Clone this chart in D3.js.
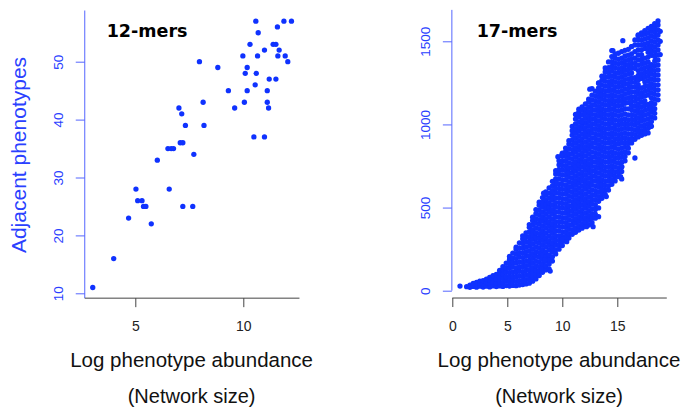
<!DOCTYPE html>
<meta charset="utf-8">
<head>
  <style>
    body { margin: 0; background: #fff; }
    text { font-family: "Liberation Sans", Arial, sans-serif; }
    .title { font-family: "DejaVu Sans", Verdana, sans-serif; font-weight: bold; }
  </style>
  <script src="https://d3js.org/d3.v7.min.js"></script>
</head>
<div id="my_dataviz"></div>

<script>

// 12-mers: log phenotype abundance vs adjacent phenotypes
var abund12 = [3.03, 4.0, 4.69, 5.03, 5.11, 5.31, 5.38, 5.49, 5.74, 6.02, 6.51, 6.57, 6.66, 6.77,
  7.02, 7.08, 7.15, 7.2, 7.2, 7.32, 7.71, 7.66, 7.97, 8.14, 8.18, 8.82, 9.31, 9.6, 9.98, 10.05,
  10.09, 10.18, 10.18, 10.31, 10.49, 10.55, 10.58, 10.6, 10.66, 10.69, 10.98, 10.98, 11.11, 11.11,
  11.17, 11.2, 11.38, 11.51, 11.51, 11.58, 11.6, 11.66, 11.88, 11.94, 12.06, 12.23];
var adj12 = [11, 16, 23, 28, 26, 26, 25, 25, 22, 33, 35, 28, 35, 35,
  42, 36, 41, 36, 25, 39, 34, 25, 50, 43, 39, 49, 45, 42, 51, 43,
  48, 49, 45, 53, 37, 46, 57, 48, 51, 55, 52, 37, 45, 43,
  42, 47, 53, 53, 47, 56, 51, 52, 57, 51, 50, 57];

// 17-mers, read off the saturated cloud strip by strip:
// [log abundance, [adjacent phenotypes of the dots in that strip]]
var cols17 = [
  [1.3, [24]],
  [1.6, [20, 34]],
  [1.9, [26, 44]],
  [2.2, [21, 38, 50]],
  [2.5, [27, 45, 58]],
  [2.8, [22, 41, 61]],
  [3.1, [27, 49, 69]],
  [3.4, [23, 44, 64, 80]],
  [3.7, [29, 51, 74, 90]],
  [4.0, [25, 47, 72, 98]],
  [4.3, [29, 53, 80, 104, 122]],
  [4.6, [26, 49, 75, 101, 127, 144]],
  [4.9, [31, 57, 84, 111, 139, 166]],
  [5.2, [28, 53, 80, 108, 135, 161, 188, 206]],
  [5.5, [32, 59, 86, 113, 142, 170, 197, 226]],
  [5.8, [30, 55, 82, 110, 137, 166, 193, 221, 249, 262]],
  [6.1, [34, 61, 89, 117, 144, 173, 202, 229, 257, 288]],
  [6.4, [37, 60, 86, 114, 143, 170, 199, 226, 255, 284, 312, 330]],
  [6.7, [41, 67, 94, 122, 150, 178, 207, 235, 263, 292, 320, 348]],
  [7.0, [45, 71, 98, 126, 155, 182, 211, 239, 268, 296, 325, 353, 381, 398]],
  [7.3, [57, 82, 110, 138, 167, 195, 223, 252, 280, 309, 338, 366, 394, 422, 442]],
  [7.6, [71, 95, 122, 150, 178, 207, 235, 263, 292, 320, 349, 378, 406, 434, 463, 488]],
  [7.9, [91, 116, 144, 172, 201, 229, 257, 286, 314, 343, 372, 400, 428, 457, 485, 514, 532]],
  [8.2, [111, 135, 162, 190, 218, 247, 275, 303, 332, 361, 389, 418, 446, 474, 503, 531, 560]],
  [8.5, [125, 150, 178, 206, 234, 263, 291, 319, 348, 377, 405, 434, 462, 490, 519, 547, 576, 594]],
  [8.8, [131, 160, 188, 216, 245, 273, 301, 330, 359, 387, 416, 444, 472, 501, 529, 558, 587, 618]],
  [9.1, [178, 204, 232, 260, 289, 317, 345, 374, 403, 431, 460, 488, 516, 545, 573, 602, 631, 658]],
  [9.4, [221, 246, 274, 302, 331, 359, 387, 416, 445, 473, 502, 530, 558, 587, 615, 644, 673, 702, 722]],
  [9.7, [250, 275, 302, 330, 359, 387, 415, 444, 473, 501, 530, 558, 586, 615, 643, 672, 701, 729, 757, 782]],
  [10.0, [272, 298, 326, 354, 383, 411, 439, 468, 497, 525, 554, 582, 610, 639, 667, 696, 725, 753, 781, 808, 828]],
  [10.3, [298, 326, 353, 381, 410, 438, 466, 495, 524, 552, 581, 609, 637, 666, 694, 723, 752, 780, 808, 837, 858]],
  [10.6, [317, 343, 370, 398, 427, 455, 483, 512, 541, 569, 598, 626, 654, 683, 711, 740, 769, 797, 825, 854, 882, 902]],
  [10.9, [339, 366, 394, 422, 451, 479, 507, 536, 565, 593, 622, 650, 678, 707, 735, 764, 793, 821, 849, 878, 906, 935, 962, 988]],
  [11.2, [351, 378, 406, 434, 463, 491, 519, 548, 577, 605, 634, 662, 690, 719, 747, 776, 805, 833, 861, 890, 918, 947, 975, 1003, 1032, 1060]],
  [11.5, [365, 391, 418, 446, 475, 503, 531, 560, 589, 617, 646, 674, 702, 731, 759, 788, 817, 845, 873, 902, 930, 959, 987, 1015, 1044, 1072, 1092]],
  [11.8, [376, 403, 431, 459, 488, 516, 544, 573, 602, 630, 659, 687, 715, 744, 772, 801, 830, 858, 886, 915, 943, 972, 1000, 1028, 1057, 1085, 1106]],
  [12.1, [387, 413, 440, 468, 497, 525, 553, 582, 611, 639, 668, 696, 724, 753, 781, 810, 839, 867, 895, 924, 952, 981, 1009, 1037, 1066, 1094, 1124]],
  [12.4, [395, 423, 451, 479, 508, 536, 564, 593, 622, 650, 679, 707, 735, 764, 792, 821, 850, 878, 906, 935, 963, 992, 1020, 1048, 1077, 1105, 1134, 1152]],
  [12.7, [409, 436, 464, 492, 521, 549, 577, 606, 635, 663, 692, 720, 748, 777, 805, 834, 863, 891, 919, 948, 976, 1005, 1033, 1061, 1090, 1118, 1147, 1176, 1215]],
  [13.0, [436, 461, 489, 517, 546, 574, 602, 631, 660, 688, 717, 745, 773, 802, 830, 859, 888, 916, 944, 973, 1001, 1030, 1058, 1086, 1115, 1143, 1172, 1200]],
  [13.3, [498, 538, 566, 594, 623, 651, 679, 708, 737, 765, 794, 822, 850, 879, 907, 936, 965, 993, 1021, 1050, 1078, 1107, 1135, 1163, 1192, 1220, 1250]],
  [13.6, [556, 583, 611, 639, 668, 696, 724, 753, 782, 810, 839, 867, 895, 924, 952, 981, 1010, 1038, 1066, 1095, 1123, 1152, 1180, 1208, 1237, 1265, 1290]],
  [13.9, [579, 605, 633, 661, 690, 718, 746, 775, 804, 832, 861, 889, 917, 946, 974, 1003, 1032, 1060, 1088, 1117, 1145, 1174, 1202, 1230, 1259, 1287, 1316, 1340]],
  [14.2, [605, 631, 659, 687, 716, 744, 772, 801, 830, 858, 887, 915, 943, 972, 1000, 1029, 1058, 1086, 1114, 1143, 1171, 1200, 1228, 1256, 1285, 1313, 1342, 1376]],
  [14.5, [640, 667, 695, 723, 752, 780, 808, 837, 866, 894, 923, 951, 979, 1008, 1036, 1065, 1094, 1122, 1150, 1179, 1207, 1236, 1264, 1292, 1321, 1349, 1378, 1408, 1444]],
  [14.8, [660, 687, 715, 743, 772, 800, 828, 857, 886, 914, 943, 971, 999, 1028, 1056, 1085, 1114, 1142, 1170, 1199, 1227, 1256, 1284, 1312, 1341, 1369, 1398, 1424]],
  [15.1, [686, 711, 739, 767, 796, 824, 852, 881, 910, 938, 967, 995, 1023, 1052, 1080, 1109, 1138, 1166, 1194, 1223, 1251, 1280, 1308, 1336, 1365, 1393, 1428]],
  [15.4, [672, 717, 745, 773, 802, 830, 858, 887, 916, 944, 973, 1001, 1029, 1058, 1086, 1115, 1144, 1172, 1200, 1229, 1257, 1286, 1314, 1342, 1371, 1399, 1438]],
  [15.7, [781, 807, 835, 863, 892, 920, 948, 977, 1006, 1034, 1063, 1095, 1127, 1155, 1184, 1212, 1241, 1270, 1298, 1326, 1355, 1383, 1412, 1446]],
  [16.0, [829, 857, 886, 914, 943, 972, 1000, 1028, 1057, 1094, 1131, 1159, 1188, 1216, 1245, 1273, 1302, 1331, 1359, 1387, 1416, 1452]],
  [16.3, [889, 916, 944, 973, 1001, 1030, 1059, 1088, 1114, 1139, 1167, 1196, 1224, 1253, 1281, 1310, 1338, 1367, 1396, 1424, 1468]],
  [16.6, [911, 939, 967, 996, 1024, 1053, 1082, 1110, 1139, 1167, 1196, 1225, 1253, 1281, 1338, 1367, 1398, 1438, 1478, 1508]],
  [16.9, [925, 953, 981, 1010, 1038, 1067, 1096, 1124, 1153, 1181, 1210, 1239, 1267, 1295, 1324, 1356, 1388, 1418, 1448, 1478, 1508, 1534]],
  [17.2, [935, 963, 991, 1020, 1048, 1077, 1106, 1134, 1163, 1191, 1220, 1277, 1305, 1334, 1362, 1391, 1420, 1449, 1477, 1506, 1536, 1550]],
  [17.5, [943, 971, 999, 1028, 1056, 1085, 1114, 1142, 1171, 1199, 1228, 1257, 1285, 1313, 1342, 1370, 1399, 1457, 1485, 1514, 1543, 1564]],
  [17.8, [949, 977, 1005, 1034, 1062, 1091, 1120, 1177, 1205, 1234, 1263, 1291, 1319, 1348, 1376, 1405, 1434, 1463, 1491, 1520, 1549, 1578]],
  [18.1, [989, 1017, 1045, 1074, 1102, 1131, 1160, 1188, 1217, 1245, 1274, 1303, 1331, 1359, 1416, 1445, 1474, 1503, 1531, 1560, 1589]],
  [18.4, [1039, 1067, 1095, 1124, 1152, 1181, 1210, 1238, 1267, 1295, 1324, 1353, 1381, 1409, 1438, 1466, 1495, 1524, 1553, 1581, 1606]],
  [18.7, [1148, 1178, 1208, 1238, 1268, 1298, 1328, 1358, 1388, 1418, 1448, 1478, 1508, 1538, 1568, 1598, 1622]],
  [18.9, [1420, 1500, 1560]]
];
// loose 17-mer dots along the edges of the cloud
var loose17 = [[0.7, 28], [8.9, 118], [8.4, 185], [10.0, 311], [10.4, 295],
  [8.3, 586], [9.5, 646], [9.6, 806], [9.95, 816], [11.4, 1063], [11.8, 1017],
  [12.2, 385], [12.8, 385], [13.3, 445], [13.6, 606], [14.0, 566], [14.5, 666],
  [15.3, 686], [15.4, 746], [16.6, 798], [16.3, 907], [16.9, 957], [17.5, 947],
  [18.0, 987], [12.5, 1212], [13.3, 1248], [13.7, 1288], [14.6, 1444],
  [15.5, 1504], [16.3, 1468], [16.9, 1538], [18.0, 1579]];

var ticks12x = [5, 10],
    ticks12y = [10, 20, 30, 40, 50],
    ticks17x = [0, 5, 10, 15],
    ticks17y = [0, 500, 1000, 1500];

var ptBlue = "#0f32ff",
    lineBlue = "#5566ff",
    textBlue = "#2a40ff",
    darkAxis = "#444";

var mers17 = [];
cols17.forEach(function(c) {
  c[1].forEach(function(v) { mers17.push([c[0], v]); });
});
mers17 = mers17.concat(loose17);

var svg = d3.select("#my_dataviz")
  .append("svg")
    .attr("width", 688)
    .attr("height", 411);

svg.append("rect").attr("width", 688).attr("height", 411).attr("fill", "#fff");

function drawPanel(cfg) {
  var g = svg.append("g");

  var x = d3.scaleLinear().domain(cfg.xTickDom).range(cfg.xTickPx);
  var y = d3.scaleLinear().domain(cfg.yTickDom).range(cfg.yTickPx);

  var left = x(cfg.xlim[0]);
  var bottom = y(cfg.ylim[0]);

  // blue left frame line
  g.append("line")
    .attr("x1", left).attr("x2", left)
    .attr("y1", y(cfg.ylim[1])).attr("y2", y(cfg.leftLineEnd))
    .attr("stroke", lineBlue).attr("stroke-width", 1);

  // dark bottom frame line
  g.append("line")
    .attr("x1", x(cfg.bottomLineStart)).attr("x2", x(cfg.xlim[1]))
    .attr("y1", bottom).attr("y2", bottom)
    .attr("stroke", darkAxis).attr("stroke-width", 1);

  // y axis
  var gy = g.append("g")
    .attr("transform", "translate(" + left + ",0)")
    .call(d3.axisLeft(y).tickValues(cfg.yTicks).tickFormat(d3.format("d"))
      .tickSize(9).tickSizeOuter(0));
  gy.select(".domain").remove();
  gy.selectAll("line").attr("stroke", lineBlue);
  gy.selectAll("text")
    .attr("x", 0).attr("dy", 0)
    .attr("text-anchor", "middle")
    .attr("transform", "translate(-21.5,0) rotate(-90)")
    .attr("fill", textBlue)
    .style("font-size", "13.5px")
    .style("font-family", "'Liberation Sans', Arial, sans-serif");

  // x axis
  var gx = g.append("g")
    .attr("transform", "translate(0," + bottom + ")")
    .call(d3.axisBottom(x).tickValues(cfg.xTicks).tickFormat(d3.format("d"))
      .tickSize(9).tickSizeOuter(0));
  gx.select(".domain").remove();
  gx.selectAll("line").attr("stroke", darkAxis);
  gx.selectAll("text")
    .attr("y", 33).attr("dy", 0)
    .attr("fill", "#222")
    .style("font-size", "14px")
    .style("font-family", "'Liberation Sans', Arial, sans-serif");

  // points
  g.append("g")
    .selectAll("circle")
    .data(cfg.points)
    .enter()
    .append("circle")
      .attr("cx", function(d) { return x(d[0]); })
      .attr("cy", function(d) { return y(d[1]); })
      .attr("r", 2.65)
      .attr("fill", ptBlue);

  // panel title
  g.append("text")
    .attr("class", "title")
    .attr("x", cfg.titleX)
    .attr("y", 36.5)
    .style("font-size", "17.5px")
    .attr("fill", "#000")
    .text(cfg.title);

  // x axis labels
  var cx = (x(cfg.xlim[0]) + x(cfg.xlim[1])) / 2 + cfg.labelShift;
  g.append("text")
    .attr("x", cx).attr("y", 367)
    .attr("text-anchor", "middle")
    .style("font-size", "20.5px")
    .attr("fill", "#111")
    .text("Log phenotype abundance");
  g.append("text")
    .attr("x", cx).attr("y", 403)
    .attr("text-anchor", "middle")
    .style("font-size", "20px")
    .attr("fill", "#111")
    .text("(Network size)");

  return g;
}

drawPanel({
  points: abund12.map(function(v, i) { return [v, adj12[i]]; }),
  xTickDom: [5, 10], xTickPx: [135.3, 243.3],
  yTickDom: [10, 50], yTickPx: [293.3, 61.7],
  xlim: [2.66, 12.6], ylim: [9.16, 58.84],
  leftLineEnd: 9.16, bottomLineStart: 2.66,
  xTicks: ticks12x, yTicks: ticks12y,
  title: "12-mers", titleX: 106.7, labelShift: -0.5
});

drawPanel({
  points: mers17,
  xTickDom: [0, 15], xTickPx: [452.3, 617.3],
  yTickDom: [0, 1500], yTickPx: [290.7, 41.3],
  xlim: [-0.04, 19.5], ylim: [-44, 1689],
  leftLineEnd: 0, bottomLineStart: 0,
  xTicks: ticks17x, yTicks: ticks17y,
  title: "17-mers", titleX: 476.7, labelShift: -0.3
});

// shared y axis title
svg.append("text")
  .attr("transform", "translate(26,155) rotate(-90)")
  .attr("text-anchor", "middle")
  .style("font-size", "21px")
  .attr("fill", textBlue)
  .text("Adjacent phenotypes");

</script>
